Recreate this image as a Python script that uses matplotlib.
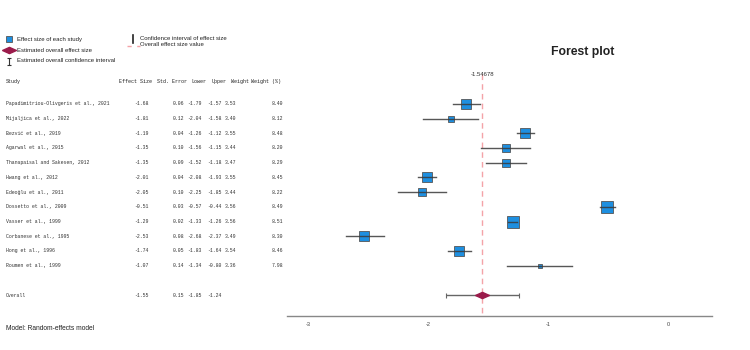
import numpy as np
import matplotlib
matplotlib.use('Agg')
import matplotlib.pyplot as plt
from matplotlib.transforms import blended_transform_factory

#-------------------------------------------------------------------------
# data
studies = ['Papadimitriou-Olivgeris et al., 2021', 'Mijaljica et al., 2022',
           'Bezvić et al., 2019', 'Agarwal et al., 2015',
           'Thanapaisal and Sakesen, 2012', 'Hwang et al., 2012',
           'Edeoğlu et al., 2011', 'Dossetto et al., 2009',
           'Vasser et al., 1999', 'Corbanese et al., 1995',
           'Hong et al., 1996', 'Roumen et al., 1999']
effect = [-1.68, -1.81, -1.19, -1.35, -1.35, -2.01, -2.05, -0.51, -1.29, -2.53, -1.74, -1.07]
std_err = [0.06, 0.12, 0.04, 0.10, 0.09, 0.04, 0.10, 0.03, 0.02, 0.08, 0.05, 0.14]
lower = [-1.79, -2.04, -1.26, -1.56, -1.52, -2.08, -2.25, -0.57, -1.33, -2.68, -1.83, -1.34]
upper = [-1.57, -1.58, -1.12, -1.15, -1.18, -1.93, -1.85, -0.44, -1.26, -2.37, -1.64, -0.80]
weight = [3.53, 3.40, 3.55, 3.44, 3.47, 3.55, 3.44, 3.56, 3.56, 3.49, 3.54, 3.36]
weight_pct = [8.40, 8.12, 8.48, 8.20, 8.29, 8.45, 8.22, 8.49, 8.51, 8.30, 8.46, 7.98]

overall = -1.54678
overall_se = 0.15
overall_lower = -1.85
overall_upper = -1.24

headers = ['Study', 'Effect Size', 'Std. Error', 'Lower', 'Upper', 'Weight', 'Weight (%)']
xticks = [-3, -2, -1, 0]

#-------------------------------------------------------------------------
blue = '#1E8FE0'
maroon = '#9B1B4B'
pink = '#F4A3A8'
mono = 'Liberation Mono'
sans = 'Liberation Sans'

fig = plt.figure(figsize=(7.5, 3.5), dpi=100)

# overlay in pixel units for text layout
ax0 = fig.add_axes([0, 0, 1, 1])
ax0.set_xlim(0, 750)
ax0.set_ylim(350, 0)
ax0.axis('off')

# forest plot axes
ax = fig.add_axes([287/750, 1 - 316/350, (712 - 287)/750, (316 - 67)/350])
n = len(studies)
rows = np.arange(1, n + 1)
y_overall = n + 2
ax.set_xlim(-3.175, 0.367)
ax.set_ylim(15.42, -1.5)

# square size follows the study weight
sizes = [(5 + (w - 3.36) * 31.5) * 0.72 for w in weight]
for y, e, lo, hi, s in zip(rows, effect, lower, upper, sizes):
    ax.plot([e], [y], marker='s', ms=s, mfc=blue, mec='#555555', mew=0.6, zorder=3)
    ax.plot([lo, hi], [y, y], color='#3a3a3a', lw=1.0, alpha=0.85, zorder=4)

# overall estimate
ax.vlines(overall, -1.0, 15.42, colors=pink, linestyles=(0, (4, 3)), lw=1.0, zorder=1)
ax.errorbar([overall], [y_overall], xerr=[[overall - overall_lower], [overall_upper - overall]],
            fmt='none', ecolor='#666666', elinewidth=1.0, capsize=1.8, capthick=0.8, zorder=2)
diamond = [(-1, 0), (0, 0.45), (1, 0), (0, -0.45), (-1, 0)]
ax.plot([overall], [y_overall], marker=diamond, ms=10, color=maroon, mec=maroon, zorder=5)
ax.text(overall, -1.0, '%.5f' % overall, ha='center', va='center', fontsize=4.3,
        family=sans, color='#333333')

for sp in ['top', 'right', 'left']:
    ax.spines[sp].set_visible(False)
ax.spines['bottom'].set_color('#888888')
ax.spines['bottom'].set_linewidth(1.0)
ax.set_yticks([])
ax.set_xticks(xticks)
ax.set_xticklabels([str(t) for t in xticks], fontsize=4, family=sans, color='#444444')
ax.tick_params(axis='x', length=0, pad=4)

#-------------------------------------------------------------------------
# table on the left, rows aligned with the plot rows
tr = blended_transform_factory(ax0.transData, ax.transData)
head_x = [6, 119, 157, 191, 212, 231, 251]
for hx, h in zip(head_x, headers):
    ax0.text(hx, -0.5, h, transform=tr, fontsize=3.6, family=mono, color='#222222',
             va='center', ha='left')

col_x = [6, 134, 173, 187, 207, 225, 272]
for y, st, e, se, lo, hi, w, wp in zip(rows, studies, effect, std_err, lower, upper,
                                        weight, weight_pct):
    vals = [st, '%.2f' % e, '%.2f' % se, '%.2f' % lo, '%.2f' % hi, '%.2f' % w, '%.2f' % wp]
    for cx, v in zip(col_x, vals):
        ax0.text(cx, y, v, transform=tr, fontsize=3.5, family=mono, color='#333333',
                 va='center', ha='left')

ov_vals = ['Overall', '%.2f' % overall, '%.2f' % overall_se,
           '%.2f' % overall_lower, '%.2f' % overall_upper]
for cx, v in zip(col_x, ov_vals):
    ax0.text(cx, y_overall, v, transform=tr, fontsize=3.5, family=mono, color='#333333',
             va='center', ha='left')

#-------------------------------------------------------------------------
# legend block
ax0.plot([9], [39], marker='s', ms=5, mfc=blue, mec='#555555', mew=0.6)
ax0.plot([9], [50], marker=diamond, ms=10, color=maroon)
ax0.errorbar([9], [61], yerr=[[3.5], [3.5]], fmt='none', ecolor='#333333',
             elinewidth=0.8, capsize=1.5, capthick=0.8)
ax0.plot([133, 133], [35, 43], color='#222222', lw=1.2)
ax0.plot([127, 140], [46, 46], color=pink, lw=1.0, ls=(0, (3, 4)))

leg_kw = dict(fontsize=4.3, family=sans, color='#222222', va='center', ha='left')
ax0.text(17, 39, 'Effect size of each study', **leg_kw)
ax0.text(17, 50, 'Estimated overall effect size', **leg_kw)
ax0.text(17, 61, 'Estimated overall confidence interval', **leg_kw)
ax0.text(140, 38.5, 'Confidence interval of effect size', **leg_kw)
ax0.text(140, 45, 'Overall effect size value', **leg_kw)

ax0.text(583, 52, 'Forest plot', fontsize=8.8, family=sans, weight='bold',
         color='#222222', ha='center', va='center')
ax0.text(6, 328, 'Model: Random-effects model', fontsize=4.8, family=sans,
         color='#222222', ha='left', va='center')

fig.savefig('out.png', dpi=100)
